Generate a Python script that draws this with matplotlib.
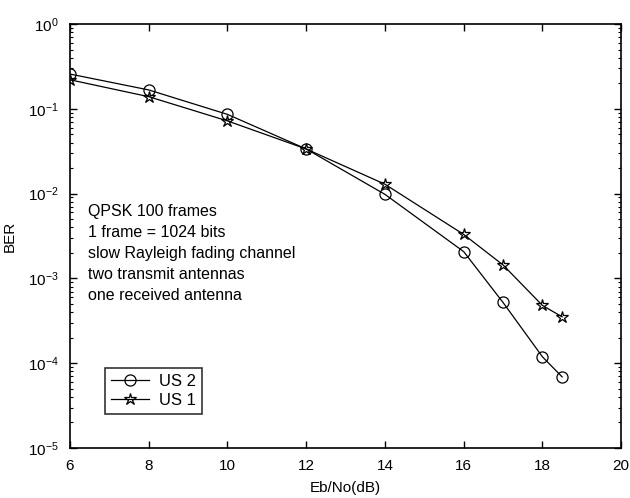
import numpy as np
import matplotlib
matplotlib.use('Agg')
import matplotlib.pyplot as plt
from matplotlib.ticker import LogLocator, NullFormatter

plt.rcParams['font.family'] = ['Liberation Sans', 'DejaVu Sans']
plt.rcParams['mathtext.default'] = 'regular'

# values
ebno_us2 = [6, 8, 10, 12, 14, 16, 17, 18, 18.5]
ber_us2 = [0.257, 0.167, 0.086, 0.0336, 0.0098, 0.00207, 0.00052, 0.000119, 0.000069]
ebno_us1 = [6, 8, 10, 12, 14, 16, 17, 18, 18.5]
ber_us1 = [0.22, 0.139, 0.072, 0.0336, 0.0129, 0.0033, 0.00144, 0.00048, 0.000352]

note_lines = ['QPSK 100 frames', '1 frame = 1024 bits', 'slow Rayleigh fading channel',
              'two transmit antennas', 'one received antenna']

fig = plt.figure(figsize=(6.3, 4.98), dpi=100)
ax = fig.add_axes([0.111, 0.1004, 0.875, 0.8514])

ax.semilogy(ebno_us2, ber_us2, color='k', lw=0.9, marker='o', ms=8,
            mfc='none', mec='k', mew=0.9, label='US 2')
ax.semilogy(ebno_us1, ber_us1, color='k', lw=0.9, marker='*', ms=9,
            mfc='none', mec='k', mew=0.9, label='US 1')

ax.set_xlim(6, 20)
ax.set_ylim(1e-5, 1e0)
ax.set_xticks(range(6, 21, 2))
ax.yaxis.set_major_locator(LogLocator(base=10, numticks=10))
ax.yaxis.set_minor_locator(LogLocator(base=10, subs=np.arange(2, 10), numticks=20))
ax.yaxis.set_minor_formatter(NullFormatter())
ax.tick_params(which='both', direction='in', top=True, right=True, labelsize=11)
ax.tick_params(which='major', length=5, width=1)
ax.tick_params(axis='x', which='major', pad=8)
ax.tick_params(axis='y', which='major', pad=8)
ax.tick_params(which='minor', length=2.5, width=0.8)
for s in ax.spines.values():
    s.set_linewidth(1.2)

ax.set_xlabel('Eb/No(dB)', fontsize=11, labelpad=6)
ax.set_ylabel('BER', fontsize=11, labelpad=8)

ax.text(0.033, 0.575, '\n'.join(note_lines), transform=ax.transAxes,
        fontsize=11.5, va='top', ha='left', linespacing=1.5)

leg = ax.legend(loc='upper left', bbox_to_anchor=(0.0635, 0.189), fontsize=12,
                frameon=True, fancybox=False, edgecolor='k', handlelength=2.3,
                handletextpad=0.6, borderpad=0.35, labelspacing=0.25,
                borderaxespad=0)
leg.get_frame().set_linewidth(1.2)

fig.savefig('out.png', dpi=100)
